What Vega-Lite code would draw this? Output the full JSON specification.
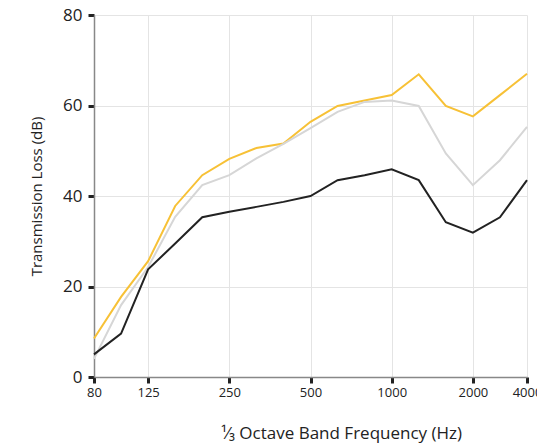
{
  "$schema": "https://vega.github.io/schema/vega-lite/v6.json",
  "autosize": {"type": "none"},
  "padding": {"left": 94, "top": 15, "right": 10, "bottom": 70},
  "width": 433,
  "height": 362,
  "background": "white",
  "data": {
    "values": [
      {"freq": 80, "series": "A", "tl": 8.5},
      {"freq": 100, "series": "A", "tl": 17.7},
      {"freq": 125, "series": "A", "tl": 25.6},
      {"freq": 160, "series": "A", "tl": 37.8},
      {"freq": 200, "series": "A", "tl": 44.6},
      {"freq": 250, "series": "A", "tl": 48.2},
      {"freq": 315, "series": "A", "tl": 50.6},
      {"freq": 400, "series": "A", "tl": 51.6},
      {"freq": 500, "series": "A", "tl": 56.4},
      {"freq": 630, "series": "A", "tl": 59.9},
      {"freq": 800, "series": "A", "tl": 61.1},
      {"freq": 1000, "series": "A", "tl": 62.3},
      {"freq": 1250, "series": "A", "tl": 66.9},
      {"freq": 1600, "series": "A", "tl": 59.9},
      {"freq": 2000, "series": "A", "tl": 57.6},
      {"freq": 2500, "series": "A", "tl": 62.3},
      {"freq": 4000, "series": "A", "tl": 67.0},
      {"freq": 80, "series": "B", "tl": 4.0},
      {"freq": 100, "series": "B", "tl": 15.9},
      {"freq": 125, "series": "B", "tl": 24.3},
      {"freq": 160, "series": "B", "tl": 35.4},
      {"freq": 200, "series": "B", "tl": 42.4},
      {"freq": 250, "series": "B", "tl": 44.6},
      {"freq": 315, "series": "B", "tl": 48.3},
      {"freq": 400, "series": "B", "tl": 51.5},
      {"freq": 500, "series": "B", "tl": 55.0},
      {"freq": 630, "series": "B", "tl": 58.6},
      {"freq": 800, "series": "B", "tl": 60.8},
      {"freq": 1000, "series": "B", "tl": 61.1},
      {"freq": 1250, "series": "B", "tl": 59.9},
      {"freq": 1600, "series": "B", "tl": 49.4},
      {"freq": 2000, "series": "B", "tl": 42.4},
      {"freq": 2500, "series": "B", "tl": 47.9},
      {"freq": 4000, "series": "B", "tl": 55.3},
      {"freq": 80, "series": "C", "tl": 5.0},
      {"freq": 100, "series": "C", "tl": 9.6},
      {"freq": 125, "series": "C", "tl": 23.8},
      {"freq": 160, "series": "C", "tl": 29.5},
      {"freq": 200, "series": "C", "tl": 35.3},
      {"freq": 250, "series": "C", "tl": 36.5},
      {"freq": 315, "series": "C", "tl": 37.6},
      {"freq": 400, "series": "C", "tl": 38.7},
      {"freq": 500, "series": "C", "tl": 40.0},
      {"freq": 630, "series": "C", "tl": 43.5},
      {"freq": 800, "series": "C", "tl": 44.6},
      {"freq": 1000, "series": "C", "tl": 45.9},
      {"freq": 1250, "series": "C", "tl": 43.5},
      {"freq": 1600, "series": "C", "tl": 34.2},
      {"freq": 2000, "series": "C", "tl": 31.9},
      {"freq": 2500, "series": "C", "tl": 35.3},
      {"freq": 4000, "series": "C", "tl": 43.5}
    ]
  },
  "config": {
    "view": {"stroke": null},
    "axis": {
      "labelFont": "Open Sans",
      "titleFont": "Open Sans",
      "labelColor": "#222",
      "titleColor": "#222",
      "gridColor": "#e4e4e4",
      "gridWidth": 1,
      "domainColor": "#888",
      "domainWidth": 1.5,
      "tickColor": "#222",
      "tickWidth": 3,
      "tickSize": 6,
      "titleFontWeight": "normal"
    }
  },
  "mark": {"type": "line", "strokeWidth": 2},
  "encoding": {
    "x": {
      "field": "freq",
      "type": "ordinal",
      "scale": {"type": "point", "padding": 0},
      "sort": "ascending",
      "axis": {
        "values": [80, 125, 250, 500, 1000, 2000, 4000],
        "labelAngle": 0,
        "labelFontSize": 13,
        "labelPadding": 3,
        "title": "¹⁄₃ Octave Band Frequency (Hz)",
        "titleFontSize": 17,
        "titlePadding": 26,
        "titleX": 247,
        "titleAlign": "center",
        "grid": true
      }
    },
    "y": {
      "field": "tl",
      "type": "quantitative",
      "scale": {"domain": [0, 80], "nice": false},
      "axis": {
        "values": [0, 20, 40, 60, 80],
        "labelFontSize": 17,
        "labelPadding": 6,
        "title": "Transmission Loss (dB)",
        "titleFontSize": 15,
        "titlePadding": 18,
        "grid": true
      }
    },
    "color": {
      "field": "series",
      "type": "nominal",
      "scale": {"domain": ["A", "B", "C"], "range": ["#f7c136", "#d6d6d6", "#222222"]},
      "legend": null
    },
    "order": {"field": "freq", "type": "quantitative"}
  }
}
